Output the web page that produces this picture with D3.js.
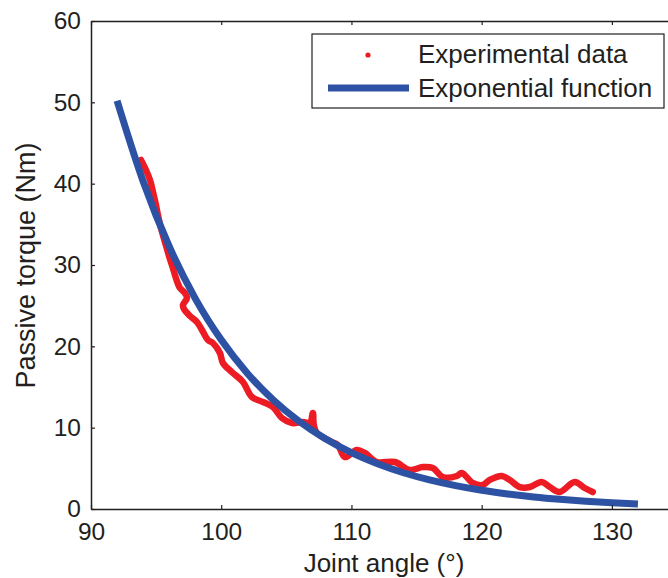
<!DOCTYPE html>
<html>
<head>
<meta charset="utf-8">
<script src="https://cdn.jsdelivr.net/npm/d3@7"></script>
<style>
  body { margin: 0; background: #fff; }
  text { font-family: "Liberation Sans", Arial, Helvetica, sans-serif; fill: #231f20; }
</style>
</head>
<body>
<div id="chart"></div>
<script>
var expAngle = [93.84, 94.22, 94.53, 94.76, 94.99, 95.14, 95.37, 95.68, 95.99, 96.29, 96.52, 96.83, 97.21, 97.37, 97.06, 97.14,
  97.60, 98.14, 98.52, 98.98, 99.36, 99.90, 100.13, 100.82, 101.67, 102.36, 103.20, 103.97, 104.66, 105.43, 106.27, 106.81,
  107.04, 107.11, 107.34, 108.50, 108.96, 109.49, 110.41, 111.03, 111.95, 113.33, 114.48, 115.48, 116.25, 117.01, 118.09,
  118.47, 119.32, 120.08, 120.62, 121.54, 122.16, 122.92, 123.69, 124.61, 125.23, 125.99, 127.14, 127.91, 128.53];
var expTorque = [42.91, 41.68, 40.45, 38.98, 37.38, 36.15, 34.55, 32.83, 31.11, 29.63, 28.40, 27.17, 26.56, 25.94, 25.08, 24.59,
  23.73, 22.99, 22.01, 20.78, 20.41, 19.18, 17.95, 16.84, 15.62, 13.77, 13.16, 12.54, 11.19, 10.57, 10.70, 10.57,
  11.80, 10.33, 9.34, 8.24, 7.87, 6.39, 7.25, 6.89, 5.78, 5.78, 4.80, 5.16, 5.04, 3.93, 4.06,
  4.43, 3.20, 2.95, 3.57, 4.06, 3.57, 2.70, 2.70, 3.32, 2.70, 2.09, 3.32, 2.58, 2.09];

// exponential fit curve
var fitAngle = [92, 94, 96, 98, 100, 102, 104, 106, 108, 110, 112, 114, 116, 118, 120, 122, 124, 126, 128, 130, 132];
var fitTorque = [50.2, 40.3, 32.3, 25.9, 20.8, 16.7, 13.4, 10.75, 8.63, 6.92, 5.56, 4.46, 3.58, 2.87, 2.30, 1.85, 1.48, 1.19, 0.96, 0.77, 0.62];

var xTicks = [90, 100, 110, 120, 130];
var yTicks = [0, 10, 20, 30, 40, 50, 60];
var legendLabels = ["Experimental data", "Exponential function"];

var width = 668, height = 578;
var red = "#ed1c24", blue = "#2e52a3", ink = "#231f20";

var svg = d3.select("#chart").append("svg")
  .attr("width", width)
  .attr("height", height);

var x = d3.scaleLinear().domain([90, 135]).range([91, 677]);
var y = d3.scaleLinear().domain([0, 60]).range([509, 21]);

var expData = expAngle.map(function (a, i) { return [a, expTorque[i]]; });
var fitData = fitAngle.map(function (a, i) { return [a, fitTorque[i]]; });

var line = d3.line()
  .x(function (d) { return x(d[0]); })
  .y(function (d) { return y(d[1]); })
  .curve(d3.curveCatmullRom);

// red data drawn thick like the dense dots
svg.append("path")
  .datum(expData)
  .attr("d", line)
  .attr("fill", "none")
  .attr("stroke", red)
  .attr("stroke-width", 6.5)
  .attr("stroke-linejoin", "round")
  .attr("stroke-linecap", "round");

svg.append("path")
  .datum(fitData)
  .attr("d", line.curve(d3.curveMonotoneX))
  .attr("fill", "none")
  .attr("stroke", blue)
  .attr("stroke-width", 7);

// axes (ticks inside)
var xAxis = svg.append("g")
  .attr("transform", "translate(0," + y(0) + ")")
  .call(d3.axisBottom(x).tickValues(xTicks).tickSizeInner(-4).tickSizeOuter(0).tickPadding(14));
var xTop = svg.append("g")
  .attr("transform", "translate(0," + y(60) + ")")
  .call(d3.axisTop(x).tickValues(xTicks).tickSizeInner(-4).tickSizeOuter(0).tickFormat(""));
var yAxis = svg.append("g")
  .attr("transform", "translate(" + x(90) + ",0)")
  .call(d3.axisLeft(y).tickValues(yTicks).tickSizeInner(-4).tickSizeOuter(0).tickPadding(10));
var yRight = svg.append("g")
  .attr("transform", "translate(" + x(135) + ",0)")
  .call(d3.axisRight(y).tickValues(yTicks).tickSizeInner(-4).tickSizeOuter(0).tickFormat(""));

[xAxis, xTop, yAxis, yRight].forEach(function (a) {
  a.selectAll("path.domain").attr("stroke", ink).attr("stroke-width", 1.5);
  a.selectAll(".tick line").attr("stroke", ink).attr("stroke-width", 1.2);
  a.selectAll("text").attr("font-size", 24.5).style("font-family", "Liberation Sans, Arial, sans-serif").attr("fill", ink);
});

// axis titles
svg.append("text")
  .attr("x", 384)
  .attr("y", 572)
  .attr("text-anchor", "middle")
  .attr("font-size", 26)
  .text("Joint angle (\u00b0)");

svg.append("text")
  .attr("transform", "translate(35,265.5) rotate(-90)")
  .attr("text-anchor", "middle")
  .attr("font-size", 27)
  .text("Passive torque (Nm)");

// legend
var legend = svg.append("g");
legend.append("rect")
  .attr("x", 312).attr("y", 34)
  .attr("width", 352).attr("height", 74)
  .attr("fill", "#fff")
  .attr("stroke", ink)
  .attr("stroke-width", 1.2);
legend.append("circle")
  .attr("cx", 368).attr("cy", 55).attr("r", 2.6)
  .attr("fill", red);
legend.append("line")
  .attr("x1", 328).attr("x2", 409)
  .attr("y1", 88).attr("y2", 88)
  .attr("stroke", blue).attr("stroke-width", 7);
legend.selectAll("text.lab")
  .data(legendLabels)
  .enter()
  .append("text")
  .attr("class", "lab")
  .attr("x", 418)
  .attr("y", function (d, i) { return 63 + i * 34; })
  .attr("font-size", 26)
  .text(function (d) { return d; });
</script>
</body>
</html>
